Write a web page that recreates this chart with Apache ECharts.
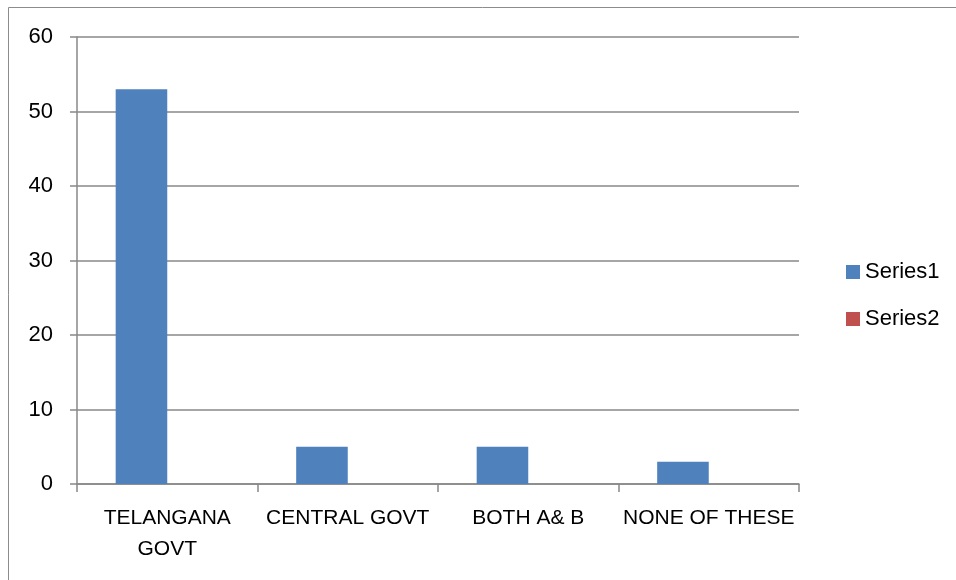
<!DOCTYPE html>
<html>
<head>
<meta charset="utf-8">
<script src="https://cdn.jsdelivr.net/npm/echarts@6/dist/echarts.min.js"></script>
<style>html,body{margin:0;padding:0;background:#fff}#c{width:956px;height:580px}</style>
</head>
<body>
<div id="c"></div>
<script>
const categories = ['TELANGANA\nGOVT', 'CENTRAL GOVT', 'BOTH A& B', 'NONE OF THESE'];
const series1 = [53, 5, 5, 3];
const series2 = [0, 0, 0, 0];
const yTicks = [0, 10, 20, 30, 40, 50, 60];

const chart = echarts.init(document.getElementById('c'));
const font = 'Liberation Sans';
const gray = '#888888';
chart.setOption({
  animation: false,
  backgroundColor: '#fff',
  graphic: [{
    type: 'rect', shape: {x: 8.5, y: 7.5, width: 960, height: 600},
    style: {fill: 'none', stroke: '#8c8c8c', lineWidth: 1}, silent: true
  }],
  grid: {left: 77, right: 157, top: 37, bottom: 96},
  legend: {
    orient: 'vertical', left: 841, top: 256, itemGap: 25,
    itemWidth: 14, itemHeight: 14, icon: 'rect', itemTextGap: 10,
    textStyle: {fontFamily: font, fontSize: 22, color: '#000'},
    data: ['Series1', 'Series2']
  },
  xAxis: {
    type: 'category', data: categories, boundaryGap: true,
    axisLine: {lineStyle: {color: gray, width: 1.5}},
    axisTick: {show: true, length: 8, inside: false, lineStyle: {color: gray, width: 1.5}, alignWithLabel: false},
    axisLabel: {fontFamily: font, fontSize: 21, color: '#000', margin: 19, lineHeight: 31, interval: 0},
    splitLine: {show: false}
  },
  yAxis: {
    type: 'value', min: 0, max: 60, interval: 10,
    axisLine: {show: true, lineStyle: {color: gray, width: 1.5}},
    axisTick: {show: true, length: 7, lineStyle: {color: gray, width: 1.5}},
    axisLabel: {fontFamily: font, fontSize: 22, color: '#000', margin: 24,
      formatter: v => yTicks.includes(v) ? String(v) : ''},
    splitLine: {show: true, lineStyle: {color: gray, width: 1.5}}
  },
  series: [
    {name: 'Series1', type: 'bar', data: series1, barWidth: '28.57%', barGap: '0%', itemStyle: {color: '#4F81BD'}},
    {name: 'Series2', type: 'bar', data: series2, barWidth: '28.57%', barGap: '0%', itemStyle: {color: '#C0504D'}}
  ]
});
</script>
</body>
</html>
